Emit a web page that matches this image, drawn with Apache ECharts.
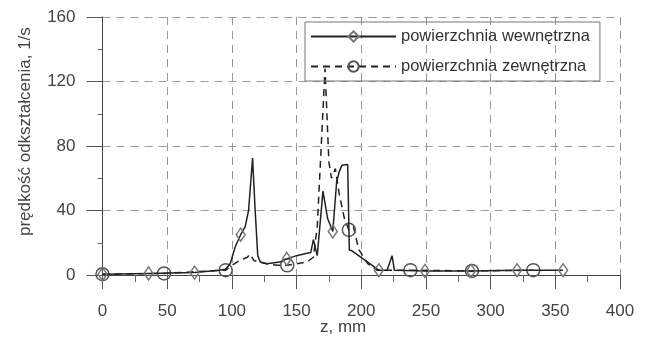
<!DOCTYPE html>
<html>
<head>
<meta charset="utf-8">
<script src="https://cdn.jsdelivr.net/npm/echarts@6/dist/echarts.min.js"></script>
<style>html,body{margin:0;padding:0;background:#fff}#c{width:648px;height:340px}</style>
</head>
<body>
<div id="c"></div>
<script>
// Data
const seriesNames = ['powierzchnia wewnętrzna', 'powierzchnia zewnętrzna'];
const xTicks = [0, 50, 100, 150, 200, 250, 300, 350, 400];
const yTicks = [0, 40, 80, 120, 160];

const zInner = [0, 35.6, 71.2, 90, 95, 98.7, 102.6, 106.8, 110.3, 112.9, 116, 118, 120, 122, 127, 137, 142.4, 150, 158, 161, 163, 166, 170.4, 174, 178, 181, 183, 185, 189.5, 190.8, 192.8, 213.6, 220, 223.8, 225.6, 249.2, 284.8, 320.4, 356];
const vInner = [0.5, 1, 1.5, 3, 3.5, 7, 17.5, 25, 30, 40, 72.5, 40, 12, 8, 7, 8, 10, 12, 13.5, 14, 22, 12, 52, 35, 27, 58, 64, 68, 68.5, 15.5, 15, 3, 3, 12, 3, 2.5, 2.5, 3, 3];
const markInner = [0, 35.6, 71.2, 106.8, 142.4, 178, 213.6, 249.2, 284.8, 320.4, 356];

const zOuter = [0, 47.6, 95.2, 100, 106, 112, 114, 117, 121, 127, 135, 142.8, 150, 158, 163, 166, 172, 175, 177, 180, 183, 187, 190.4, 194, 198, 205, 212, 238, 285.6, 333];
const vOuter = [0.5, 1, 3, 6, 9, 11, 13, 9, 8, 7, 6, 6, 7, 8, 11, 30, 128, 70, 60, 66, 50, 35, 28, 30, 16, 7, 3, 3, 2.5, 3];
const markOuter = [0, 47.6, 95.2, 142.8, 190.4, 238, 285.6, 333];

function build(z, v, marks) {
  return z.map((x, i) => ({ value: [x, v[i]], symbol: marks.includes(x) ? undefined : 'none' }));
}

const chart = echarts.init(document.getElementById('c'), null, { renderer: 'canvas' });
const FONT = 'Liberation Sans';
const grid = { left: 102.5, right: 28, top: 17, bottom: 65 };

chart.setOption({
  animation: false,
  backgroundColor: '#fff',
  textStyle: { fontFamily: FONT },
  grid: grid,
  legend: {
    orient: 'vertical',
    left: 305, top: 22,
    padding: [6, 10, 6, 5],
    itemWidth: 85, itemHeight: 13, itemGap: 13,
    itemTextGap: 15,
    borderColor: '#777', borderWidth: 1,
    textStyle: { fontFamily: FONT, fontSize: 16.5, color: '#333' },
    data: seriesNames
  },
  xAxis: {
    type: 'value', min: xTicks[0], max: xTicks[xTicks.length - 1], interval: 50,
    axisLine: { onZero: true, lineStyle: { color: '#444', width: 1 } },
    axisTick: { show: true, length: 14, lineStyle: { color: '#555' } },
    minorTick: { show: true, splitNumber: 2, length: 7, lineStyle: { color: '#666' } },
    axisLabel: { margin: 28, fontSize: 17, color: '#444', fontFamily: FONT },
    splitLine: { show: true, lineStyle: { color: '#999', type: [8, 6], width: 1 } }
  },
  yAxis: {
    type: 'value', min: yTicks[0], max: yTicks[yTicks.length - 1], interval: 40,
    axisLine: { show: true, lineStyle: { color: '#444', width: 1 } },
    axisTick: { show: true, length: 16, lineStyle: { color: '#555' } },
    minorTick: { show: true, splitNumber: 2, length: 5, lineStyle: { color: '#666' } },
    axisLabel: { margin: 27, fontSize: 17, color: '#444', fontFamily: FONT },
    splitLine: { show: true, lineStyle: { color: '#999', type: [8, 6], width: 1 } }
  },
  graphic: [
    { type: 'text', left: 320, top: 319, style: { text: 'z, mm', font: '17px "Liberation Sans"', fill: '#444' } },
    { type: 'text', x: 17, y: 236, rotation: Math.PI / 2, style: { text: 'prędkość odkształcenia, 1/s', font: '17px "Liberation Sans"', fill: '#444' } }
  ],
  series: [
    {
      name: seriesNames[0], type: 'line',
      data: build(zInner, vInner, markInner),
      symbol: 'diamond', symbolSize: [9, 13], showSymbol: true,
      lineStyle: { color: '#222', width: 1.5, type: 'solid' },
      itemStyle: { color: 'rgba(255,255,255,0)', borderColor: '#777', borderWidth: 1.5 },
      z: 3
    },
    {
      name: seriesNames[1], type: 'line',
      data: build(zOuter, vOuter, markOuter),
      symbol: 'circle', symbolSize: 13, showSymbol: true,
      lineStyle: { color: '#222', width: 1.5, type: [7, 5] },
      itemStyle: { color: 'rgba(255,255,255,0)', borderColor: '#555', borderWidth: 1.5 },
      z: 2
    }
  ]
});
</script>
</body>
</html>
